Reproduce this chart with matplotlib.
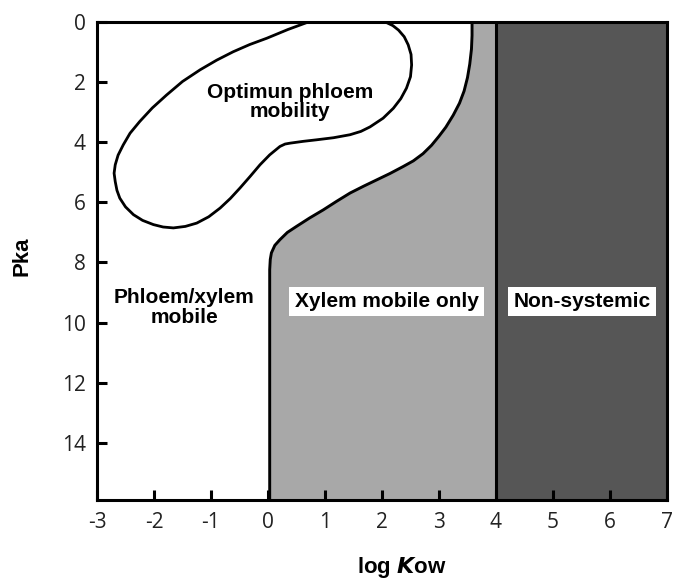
import matplotlib
matplotlib.use("Agg")
import matplotlib.pyplot as plt

plt.rcParams['axes.unicode_minus'] = False

# digitised boundary of the "optimum phloem mobility" loop (log Kow, pKa)
blob_x = [0.68, 0.35, -0.02, -0.32, -0.61, -0.90, -1.19, -1.50, -1.78, -2.03,
          -2.25, -2.42, -2.54, -2.63, -2.68, -2.70, -2.68, -2.65, -2.60, -2.50,
          -2.36, -2.20, -2.01, -1.84, -1.66, -1.45, -1.25, -1.04, -0.84, -0.66,
          -0.49, -0.31, -0.14, 0.03, 0.21, 0.30, 0.39, 0.62, 0.85, 1.15,
          1.44, 1.63, 1.79, 2.02, 2.20, 2.33, 2.43, 2.50, 2.52, 2.51,
          2.46, 2.39, 2.29, 2.19, 2.08, 0.68]
blob_y = [0.02, 0.25, 0.54, 0.75, 0.99, 1.27, 1.59, 1.98, 2.43, 2.86,
          3.31, 3.70, 4.09, 4.43, 4.75, 5.03, 5.31, 5.60, 5.86, 6.15,
          6.41, 6.60, 6.74, 6.82, 6.85, 6.80, 6.69, 6.48, 6.19, 5.87,
          5.52, 5.13, 4.75, 4.42, 4.14, 4.06, 4.03, 3.97, 3.92, 3.85,
          3.75, 3.64, 3.49, 3.20, 2.87, 2.55, 2.20, 1.82, 1.43, 1.08,
          0.76, 0.49, 0.27, 0.12, 0.02, 0.02]

# digitised edge of the xylem-only region
edge_x = [0.03, 0.03, 0.04, 0.06, 0.12, 0.21, 0.34, 0.50, 0.73, 0.97,
          1.20, 1.44, 1.68, 1.91, 2.14, 2.37, 2.55, 2.72, 2.87, 3.00,
          3.12, 3.25, 3.36, 3.44, 3.50, 3.54, 3.57, 3.58, 3.58]
edge_y = [15.9, 8.24, 7.90, 7.68, 7.43, 7.24, 7.00, 6.80, 6.52, 6.25,
          5.97, 5.69, 5.46, 5.25, 5.04, 4.81, 4.62, 4.38, 4.10, 3.80,
          3.50, 3.10, 2.70, 2.30, 1.85, 1.40, 0.90, 0.45, 0.0]

xylem_limit = 4
x_range = (-3, 7)
pka_range = (15.9, 0)
x_ticks = list(range(-3, 8))
y_ticks = list(range(0, 15, 2))

light = '#a8a8a8'
dark = '#565656'

fig = plt.figure(figsize=(6.75, 5.83), dpi=100)
ax = fig.add_axes([0.1437, 0.1424, 0.8444, 0.8199])

# regions
ax.axvspan(xylem_limit, x_range[1], color=dark, lw=0, zorder=1)
ax.fill(edge_x + [xylem_limit, xylem_limit], edge_y + [0, pka_range[0]],
        color=light, lw=0, zorder=1)
ax.plot(edge_x, edge_y, color='black', lw=2.1, zorder=3,
        solid_joinstyle='round', solid_capstyle='round')
ax.axvline(xylem_limit, color='black', lw=2.2, zorder=3)
ax.plot(blob_x, blob_y, color='black', lw=2, zorder=3,
        solid_joinstyle='round', solid_capstyle='round')

# labels
lab = dict(fontsize=15, fontweight='bold', family='Liberation Sans',
           ha='center', va='center', zorder=5)
ax.text(0.39, 2.66, 'Optimun phloem\nmobility', linespacing=1.05, **lab)
ax.text(-1.47, 9.5, 'Phloem/xylem\nmobile', linespacing=1.05, **lab)
box = dict(boxstyle='square,pad=0.25', fc='white', ec='none')
ax.text(2.08, 9.29, 'Xylem mobile only', bbox=box, **lab)
ax.text(5.51, 9.29, 'Non-systemic', bbox=box, **lab)

ax.set_xlim(x_range)
ax.set_ylim(pka_range)
ax.set_xticks(x_ticks)
ax.set_yticks(y_ticks)
ax.tick_params(direction='in', length=7, width=2.2, labelsize=15,
               labelcolor='#222222')
ax.tick_params(axis='x', pad=9)
ax.tick_params(axis='y', pad=8)
for t in ax.get_xticklabels() + ax.get_yticklabels():
    t.set_family('Open Sans')
for s in ax.spines.values():
    s.set_linewidth(2.2)
    s.set_zorder(4)

fig.text(0.033, 0.56, 'Pka', rotation=90, fontsize=16, fontweight='bold',
         family='Liberation Sans', ha='center', va='center')
fig.text(0.596, 0.026, 'log $\\bfit{K}$ow', fontsize=16, fontweight='bold',
         family='Liberation Sans', ha='center', va='center')

fig.savefig('out.png', dpi=100)
